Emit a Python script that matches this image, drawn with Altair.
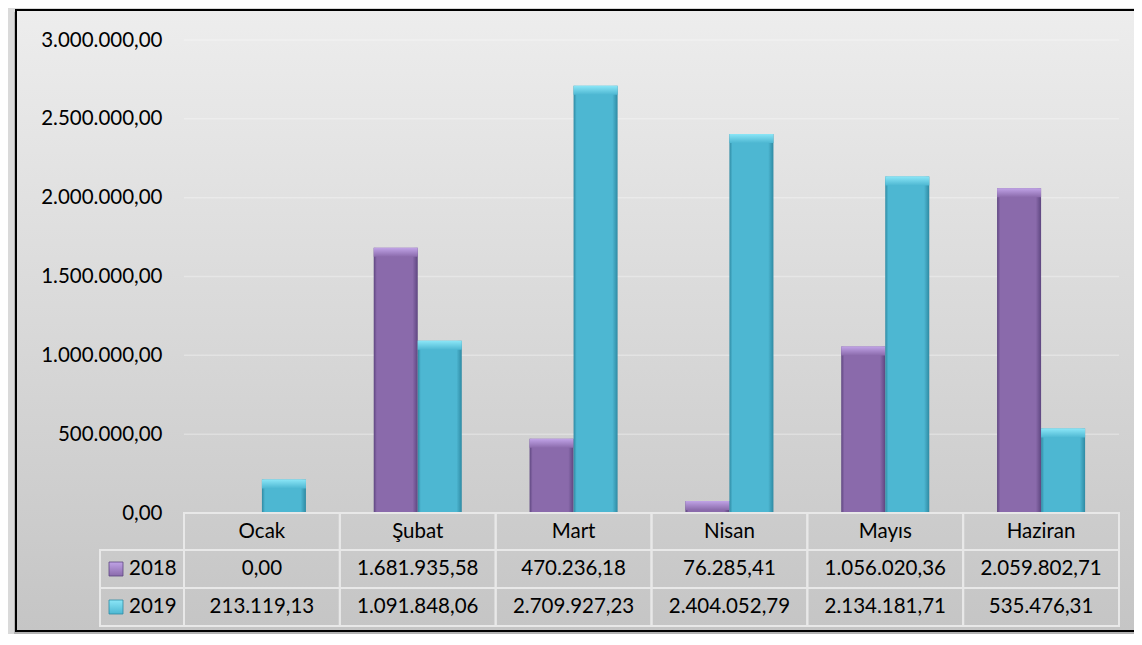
import altair as alt
import pandas as pd

months = ["Ocak", "Şubat", "Mart", "Nisan", "Mayıs", "Haziran"]
series = ["2018", "2019"]
v2018 = [0.00, 1681935.58, 470236.18, 76285.41, 1056020.36, 2059802.71]
v2019 = [213119.13, 1091848.06, 2709927.23, 2404052.79, 2134181.71, 535476.31]
y_ticks = [0, 500000, 1000000, 1500000, 2000000, 2500000, 3000000]

PURPLE = "#8a6aab"
CYAN = "#4db7d2"
FONT = "Lato"
FS = 20.5
W, H = 935, 473
# table row boundaries (below the plot area)
R0, R1, R2, R3 = 473, 510, 548, 586

rows = []
for m, a, b in zip(months, v2018, v2019):
    rows.append({"month": m, "year": "2018", "value": a})
    rows.append({"month": m, "year": "2019", "value": b})
df = pd.DataFrame(rows)
df_m = pd.DataFrame({"month": months})
df_t = pd.DataFrame({"tick": y_ticks})
one = pd.DataFrame({"k": [0]})

xs = alt.Scale(domain=months, paddingInner=0, paddingOuter=0)
ys = alt.Scale(domain=[0, 3000000], nice=False)
X = alt.X("month:N", sort=months, scale=xs, axis=None)
XO = alt.XOffset("year:N", scale=alt.Scale(domain=series, paddingInner=0, paddingOuter=0.77))


def hgrad(base, dark):
    return alt.LinearGradient(
        gradient="linear", x1=0, x2=1, y1=0, y2=0,
        stops=[alt.GradientStop(offset=0, color=dark),
               alt.GradientStop(offset=0.07, color=base),
               alt.GradientStop(offset=0.88, color=base),
               alt.GradientStop(offset=1, color=dark)])


def vgrad(light, base):
    return alt.LinearGradient(
        gradient="linear", x1=0, x2=0, y1=0, y2=1,
        stops=[alt.GradientStop(offset=0, color=light),
               alt.GradientStop(offset=1, color=base)])


shadow = alt.Chart(one).mark_rect(fill="#9a9a9a", opacity=0.6).encode(
    x=alt.value(-170), x2=alt.value(970), y=alt.value(-28), y2=alt.value(594))
frame = alt.Chart(one).mark_rect(
    stroke="#000000", strokeWidth=2,
    fill=alt.LinearGradient(gradient="linear", x1=0, x2=0, y1=0, y2=1,
                            stops=[alt.GradientStop(offset=0, color="#ededed"),
                                   alt.GradientStop(offset=1, color="#c5c5c5")])
).encode(x=alt.value(-168), x2=alt.value(970), y=alt.value(-30), y2=alt.value(591))

grid = alt.Chart(df_t).mark_rule(color="#ffffff", opacity=0.3, strokeWidth=1.5).encode(
    y=alt.Y("tick:Q", scale=ys,
            axis=alt.Axis(values=y_ticks, format=",.2f", grid=False, domain=False, ticks=False,
                          labelPadding=22, labelFontSize=FS, labelFont=FONT, labelColor="#000000",
                          title=None, zindex=1)),
    x=alt.value(0), x2=alt.value(W))

layers = [shadow, frame, grid]
cols = {"2018": (PURPLE, "#5e4680", "#c0a3e6"), "2019": (CYAN, "#2f8aa3", "#8be6f7")}
for s in series:
    base, dark, light = cols[s]
    body = alt.Chart(df).transform_filter(
        (alt.datum.year == s) & (alt.datum.value > 0)
    ).mark_bar(fill=hgrad(base, dark)).encode(
        x=X, xOffset=XO, y=alt.Y("value:Q", scale=ys, title=None))
    top = alt.Chart(df).transform_filter(
        (alt.datum.year == s) & (alt.datum.value > 0)
    ).mark_bar(fill=vgrad(light, base), y2Offset=9).encode(
        x=X, xOffset=XO, y=alt.Y("value:Q", scale=ys, title=None), y2=alt.Y2("value:Q"))
    layers += [body, top]

cell_style = dict(filled=False, stroke="#e8e8e8", strokeWidth=2)
hdr_cells = alt.Chart(df_m).mark_rect(**cell_style).encode(x=X, y=alt.value(R0), y2=alt.value(R1))
row_cells1 = alt.Chart(df_m).mark_rect(**cell_style).encode(x=X, y=alt.value(R1), y2=alt.value(R2))
row_cells2 = alt.Chart(df_m).mark_rect(**cell_style).encode(x=X, y=alt.value(R2), y2=alt.value(R3))
leg_cell1 = alt.Chart(one).mark_rect(**cell_style).encode(
    x=alt.value(-84), x2=alt.value(0), y=alt.value(R1), y2=alt.value(R2))
leg_cell2 = alt.Chart(one).mark_rect(**cell_style).encode(
    x=alt.value(-84), x2=alt.value(0), y=alt.value(R2), y2=alt.value(R3))
layers += [hdr_cells, row_cells1, row_cells2, leg_cell1, leg_cell2]

txt = dict(font=FONT, fontSize=FS, color="#000000", baseline="middle")
hdr_text = alt.Chart(df_m).mark_text(**txt).encode(
    x=X, y=alt.value((R0 + R1) / 2), text="month:N")
layers.append(hdr_text)

for s, (ra, rb) in zip(series, [(R1, R2), (R2, R3)]):
    base, dark, light = cols[s]
    yc = (ra + rb) / 2
    vals = alt.Chart(df).transform_filter(alt.datum.year == s).mark_text(**txt).encode(
        x=X, y=alt.value(yc), text=alt.Text("value:Q", format=",.2f"))
    icon = alt.Chart(one).mark_rect(fill=vgrad(light, base), stroke=dark, strokeWidth=0.8).encode(
        x=alt.value(-75), x2=alt.value(-61), y=alt.value(yc - 7), y2=alt.value(yc + 7))
    lab = alt.Chart(pd.DataFrame({"year": [s]})).mark_text(align="left", **txt).encode(
        x=alt.value(-55), y=alt.value(yc), text="year:N")
    layers += [vals, icon, lab]

chart = alt.layer(*layers).properties(
    width=W, height=H,
    autosize=alt.AutoSizeParams(type="none"),
    padding={"left": 176, "top": 32, "right": 15, "bottom": 121},
    background="#dadada",
).configure_view(stroke=None).configure(
    locale={"number": {"decimal": ",", "thousands": ".", "grouping": [3], "currency": ["", ""]}}
)

chart.save("out.html", embed_options={"renderer": "svg", "actions": False})
